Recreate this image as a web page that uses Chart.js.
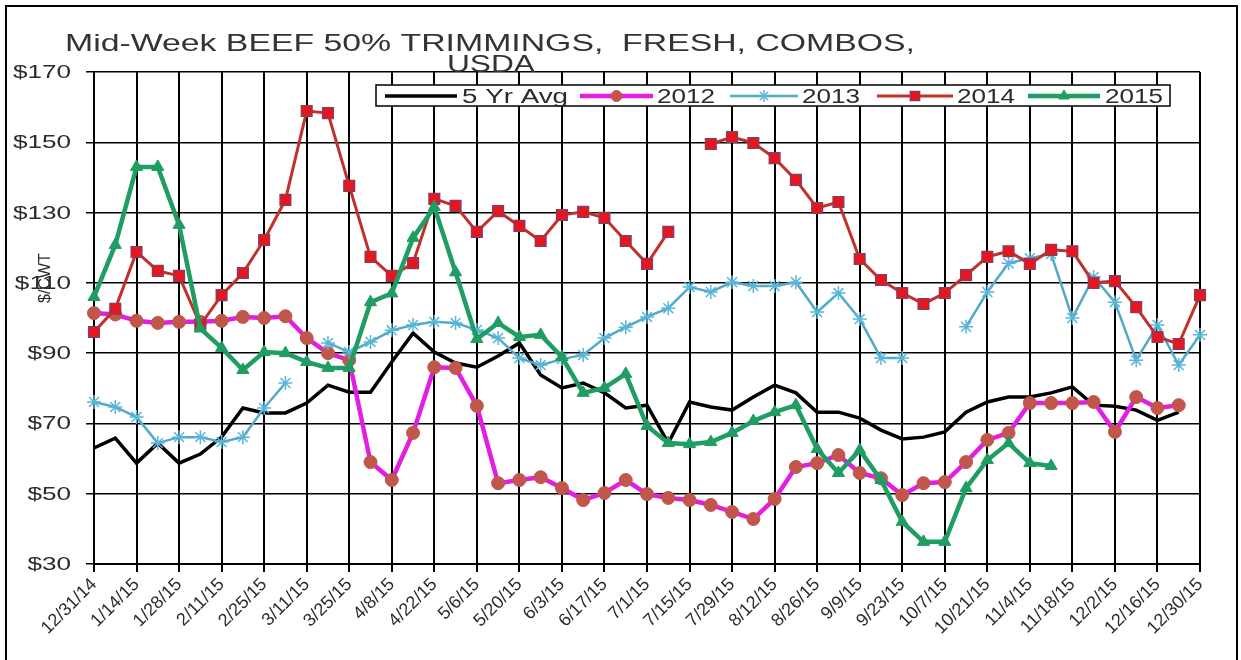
<!DOCTYPE html>
<html>
<head>
<meta charset="utf-8">
<script src="https://cdn.jsdelivr.net/npm/chart.js@4.4.0/dist/chart.umd.min.js"></script>
<style>
  html, body { margin: 0; padding: 0; background: #fff; }
  #wrap { width: 1241px; height: 660px; }
</style>
</head>
<body>
<div id="wrap"><canvas id="chart" width="1241" height="660"></canvas></div>
<script>
// weekly dates, 12/31/14 .. 12/30/15
const weeks = ['12/31/14', '1/7/15', '1/14/15', '1/21/15', '1/28/15', '2/4/15', '2/11/15', '2/18/15', '2/25/15',
  '3/4/15', '3/11/15', '3/18/15', '3/25/15', '4/1/15', '4/8/15', '4/15/15', '4/22/15', '4/29/15', '5/6/15',
  '5/13/15', '5/20/15', '5/27/15', '6/3/15', '6/10/15', '6/17/15', '6/24/15', '7/1/15', '7/8/15', '7/15/15',
  '7/22/15', '7/29/15', '8/5/15', '8/12/15', '8/19/15', '8/26/15', '9/2/15', '9/9/15', '9/16/15', '9/23/15',
  '9/30/15', '10/7/15', '10/14/15', '10/21/15', '10/28/15', '11/4/15', '11/11/15', '11/18/15', '11/25/15',
  '12/2/15', '12/9/15', '12/16/15', '12/23/15', '12/30/15'];

const avg5 = [63, 65.8, 58.7, 64.4, 58.7, 61.3, 66.1, 74.4, 73, 73, 75.8, 80.9, 78.9, 78.9, 87.5, 95.7, 90.3,
  87.2, 86, 89.2, 92.9, 83.8, 80.1, 81.5, 78.7, 74.4, 75.2, 64.4, 76.1, 74.7, 73.8, 77.5, 80.9, 78.7, 73.2,
  73.2, 71.5, 68.1, 65.6, 66.1, 67.6, 73.2, 76.1, 77.5, 77.5, 78.7, 80.4, 75.2, 74.9, 73.8, 70.9, 73.2, null];

const y2012 = [101.4, 101, 99.2, 98.6, 98.9, 98.9, 99.2, 100.3, 100, 100.5, 94.3, 90, 88, 59, 53.9, 67.3, 86,
  85.8, 75, 53, 53.9, 54.7, 51.6, 48.2, 50.2, 53.9, 49.9, 48.8, 48.2, 46.8, 44.8, 42.8, 48.5, 57.6, 58.7, 61,
  55.9, 54.4, 49.6, 53, 53.3, 59, 65.3, 67.3, 75.8, 75.8, 75.8, 76.1, 67.6, 77.5, 74.4, 75.2, null];

const y2013 = [76.1, 74.7, 71.8, 64.4, 66.1, 66.1, 64.7, 66.1, 74.4, 81.5, null, 92.9, 90.3, 93.2, 96.5, 98,
  98.9, 98.6, 96.6, 94.3, 88.6, 86.6, 88.3, 89.5, 94.3, 97.4, 100.3, 102.8, 108.8, 107.4, 110.2, 109.1, 109.1,
  110.2, 101.7, 107.1, 99.7, 88.6, 88.6, null, null, 97.5, 107.4, 115.6, 117, 118.2, 100, 111.7, 104.5, 88, 98,
  86.6, 95.2];

const y2014 = [96, 102.6, 118.8, 113.4, 112, 98, 106.5, 112.8, 122.2, 133.6, 158.9, 158.3, 137.6, 117.4, 112,
  115.6, 133.9, 131.9, 124.5, 130.4, 126.2, 121.9, 129.3, 130.2, 128.5, 121.9, 115.4, 124.5, null, 149.5, 151.5,
  149.8, 145.5, 139.3, 131.3, 133, 116.8, 110.8, 107.1, 104, 107.1, 112.2, 117.4, 119, 115.4, 119.4, 119, 110,
  110.5, 103.1, 94.6, 92.6, 106.5];

const y2015 = [106, 120.8, 143, 143, 126.5, 97, 91.5, 85.2, 90.3, 90, 87.5, 85.8, 85.8, 104.5, 107, 122.8,
  131.6, 113, 94, 98.6, 94.6, 95.2, 88.9, 78.7, 80.1, 84.1, 69.3, 64.4, 64.1, 64.7, 67.3, 70.7, 73.2, 75.2, 62.7,
  55.9, 62.4, 53.9, 42, 36.3, 36.3, 51.6, 59.6, 64.4, 58.7, 57.9, null, null, null, null, null, null, null];

const seriesNames = ['5 Yr Avg', '2012', '2013', '2014', '2015'];
const titleLines = ['Mid-Week BEEF 50% TRIMMINGS,  FRESH, COMBOS,', 'USDA'];
const yTitle = '$/CWT';

const FONT = '"Liberation Sans", Arial, sans-serif';
const TEXT = '#2b2b2b';

// draws text squeezed/stretched horizontally to a given width
function wideText(ctx, text, x, y, width) {
  const w = ctx.measureText(text).width;
  ctx.save();
  ctx.translate(x, y);
  ctx.scale(width / w, 1);
  ctx.textAlign = 'left';
  ctx.fillText(text, 0, 0);
  ctx.restore();
}

const datasets = [
  { label: seriesNames[0], data: avg5, borderColor: '#000', borderWidth: 3.5, pointRadius: 0, order: 5 },
  { label: seriesNames[1], data: y2012, borderColor: '#e21ee2', borderWidth: 4.5, pointStyle: 'circle',
    pointRadius: 6.5, pointBackgroundColor: '#c0564c', pointBorderColor: '#c0564c', pointBorderWidth: 1, order: 4 },
  { label: seriesNames[2], data: y2013, borderColor: '#52a9c9', borderWidth: 2.5, pointStyle: 'star',
    pointRadius: 7, pointBackgroundColor: '#5ab6d8', pointBorderColor: '#5ab6d8', pointBorderWidth: 1.5, order: 3 },
  { label: seriesNames[3], data: y2014, borderColor: '#c2302a', borderWidth: 3, pointStyle: 'rect',
    pointRadius: 7.5, pointBackgroundColor: '#e8161c', pointBorderColor: '#8f3a5c', pointBorderWidth: 1.5, order: 2 },
  { label: seriesNames[4], data: y2015, borderColor: '#1f9d63', borderWidth: 4.5, pointStyle: 'triangle',
    pointRadius: 7, pointBackgroundColor: '#1f9d63', pointBorderColor: '#1f9d63', pointBorderWidth: 1, order: 1 }
];

// legend slots: [lineStart, lineEnd, textStart, textEnd]
const legendSlots = [[385, 457, 462, 568], [580, 653, 657, 715], [730, 798, 802, 860],
  [877, 953, 957, 1015], [1028, 1100, 1105, 1163]];

const decor = {
  id: 'decor',
  beforeDraw(chart) {
    const ctx = chart.ctx;
    ctx.save();
    ctx.fillStyle = '#fff';
    ctx.fillRect(0, 0, chart.width, chart.height);
    ctx.restore();
  },
  afterDraw(chart) {
    const ctx = chart.ctx;
    const ys = chart.scales.y;
    ctx.save();
    // frame
    ctx.strokeStyle = '#000';
    ctx.lineWidth = 2;
    ctx.strokeRect(6, 6, 1231, 700);

    // y tick labels
    ctx.fillStyle = TEXT;
    ctx.font = '18px ' + FONT;
    ctx.textBaseline = 'middle';
    ys.ticks.forEach(t => {
      const s = '$' + t.value;
      const w = ctx.measureText(s).width * 1.45;
      wideText(ctx, s, 71 - w, ys.getPixelForValue(t.value) + 1, w);
    });

    // y title
    ctx.save();
    ctx.translate(46, 278);
    ctx.rotate(-Math.PI / 2);
    ctx.font = '16px ' + FONT;
    ctx.textAlign = 'center';
    ctx.fillText(yTitle, 0, 0);
    ctx.restore();

    // title
    ctx.font = '24px ' + FONT;
    ctx.textBaseline = 'alphabetic';
    ctx.fillStyle = '#333';
    wideText(ctx, titleLines[0], 65, 51, 850);
    wideText(ctx, titleLines[1], 447, 72, 88);

    // legend
    ctx.fillStyle = '#fff';
    ctx.fillRect(376, 85, 794, 21);
    ctx.strokeStyle = '#000';
    ctx.lineWidth = 1.5;
    ctx.strokeRect(376, 85, 794, 21);
    const ly = 96;
    chart.data.datasets.forEach((ds, i) => {
      const [a, b, c, d] = legendSlots[i];
      ctx.strokeStyle = ds.borderColor;
      ctx.lineWidth = ds.borderWidth;
      ctx.beginPath();
      ctx.moveTo(a, ly);
      ctx.lineTo(b, ly);
      ctx.stroke();
      if (ds.pointRadius) {
        ctx.fillStyle = ds.pointBackgroundColor;
        ctx.strokeStyle = ds.pointBorderColor;
        ctx.lineWidth = ds.pointBorderWidth;
        Chart.helpers.drawPoint(ctx, { pointStyle: ds.pointStyle, radius: ds.pointRadius - 1, borderWidth: ds.pointBorderWidth, rotation: 0 }, (a + b) / 2, ly);
      }
      ctx.fillStyle = TEXT;
      ctx.font = '20px ' + FONT;
      ctx.textBaseline = 'middle';
      wideText(ctx, ds.label, c, ly + 1, d - c);
    });
    ctx.restore();
  }
};

new Chart(document.getElementById('chart'), {
  type: 'line',
  data: { labels: weeks, datasets },
  options: {
    responsive: false,
    animation: false,
    devicePixelRatio: 1,
    spanGaps: false,
    layout: { padding: { top: 72, right: 41, left: 0, bottom: 0 } },
    plugins: { legend: { display: false }, title: { display: false }, tooltip: { enabled: false } },
    elements: { line: { tension: 0 } },
    scales: {
      x: {
        offset: false,
        afterFit: s => { s.height = 96; },
        grid: { color: '#000', lineWidth: 2, tickLength: 8, drawOnChartArea: true },
        border: { color: '#000', width: 2 },
        ticks: {
          autoSkip: false, maxRotation: 45, minRotation: 45, padding: 2,
          color: TEXT, font: { family: FONT, size: 18 },
          callback: (v, i) => (i % 2 === 0 ? weeks[i] : null)
        }
      },
      y: {
        min: 30, max: 170,
        afterFit: s => { s.width = 94; },
        grid: { color: '#000', lineWidth: 1.5, tickLength: 8 },
        border: { color: '#000', width: 2 },
        ticks: { stepSize: 20, color: 'rgba(0,0,0,0)', font: { family: FONT, size: 18 } }
      }
    }
  },
  plugins: [decor]
});
</script>
</body>
</html>
